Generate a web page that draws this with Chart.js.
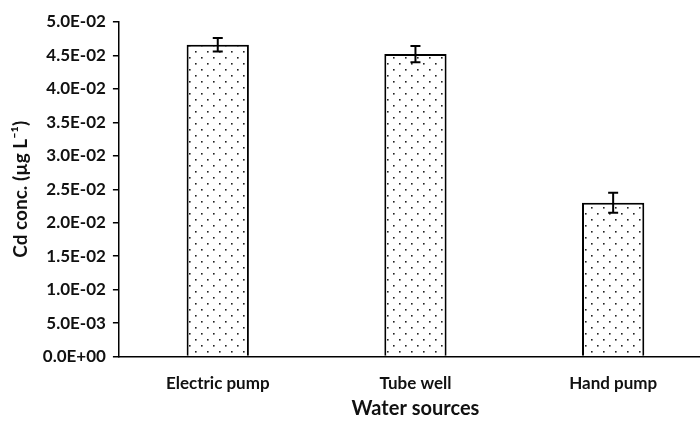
<!DOCTYPE html>
<html>
<head>
<meta charset="utf-8">
<script src="https://cdn.jsdelivr.net/npm/chart.js@4"></script>
<style>
  html, body { margin: 0; padding: 0; background: #fff; overflow: hidden; }
  #wrap { width: 712px; height: 421px; }
</style>
</head>
<body>
<div id="wrap"><canvas id="chart"></canvas></div>
<script>
// data
const sources = ["Electric pump", "Tube well", "Hand pump"];
const cdConc = [0.0466, 0.0452, 0.0230];
const cdErr = [0.0010, 0.0012, 0.0015];
const yTicks = [0, 0.005, 0.01, 0.015, 0.02, 0.025, 0.03, 0.035, 0.04, 0.045, 0.05];

const FONT = "Lato";

// sci notation like Excel: 5.0E-02
function sci(v) {
  if (v === 0) return "0.0E+00";
  let e = Math.floor(Math.log10(Math.abs(v)) + 1e-9);
  let m = v / Math.pow(10, e);
  let sign = e < 0 ? "-" : "+";
  let ee = String(Math.abs(e)).padStart(2, "0");
  return m.toFixed(1) + "E" + sign + ee;
}

function dotPattern() {
  const c = document.createElement("canvas");
  c.width = 12; c.height = 12;
  const g = c.getContext("2d");
  g.fillStyle = "#fff";
  g.fillRect(0, 0, 12, 12);
  g.fillStyle = "#222";
  g.fillRect(3, 3, 1.6, 1.6);
  g.fillRect(9, 9, 1.6, 1.6);
  return g.createPattern(c, "repeat");
}

/* error bars drawn from the y scale */
const errorBars = {
  id: "errorBars",
  afterDatasetsDraw(chart) {
    const ctx = chart.ctx;
    const y = chart.scales.y;
    const meta = chart.getDatasetMeta(0);
    ctx.save();
    ctx.strokeStyle = "#000";
    ctx.lineWidth = 2;
    meta.data.forEach((bar, i) => {
      const top = y.getPixelForValue(cdConc[i] + cdErr[i]);
      const bot = y.getPixelForValue(cdConc[i] - cdErr[i]);
      ctx.beginPath();
      ctx.moveTo(bar.x, top); ctx.lineTo(bar.x, bot);
      ctx.moveTo(bar.x - 5, top); ctx.lineTo(bar.x + 5, top);
      ctx.moveTo(bar.x - 5, bot); ctx.lineTo(bar.x + 5, bot);
      ctx.stroke();
    });
    ctx.restore();
  }
};

new Chart(document.getElementById("chart"), {
  type: "bar",
  data: {
    labels: sources,
    datasets: [{
      data: cdConc,
      backgroundColor: dotPattern(),
      borderColor: "#000",
      borderWidth: 2,
      borderSkipped: "bottom",
      barPercentage: 0.315,
      categoryPercentage: 1
    }]
  },
  options: {
    responsive: true,
    maintainAspectRatio: false,
    animation: false,
    layout: { padding: { top: 22, right: 0, bottom: 0, left: 5 } },
    plugins: { legend: { display: false }, tooltip: { enabled: false } },
    scales: {
      x: {
        grid: { display: false, drawTicks: false },
        border: { color: "#000", width: 1.5 },
        ticks: { color: "#111", font: { family: FONT, size: 17, weight: "bold" }, padding: 17 },
        title: { display: true, text: "Water sources", color: "#111",
                 font: { family: FONT, size: 20, weight: "bold" }, padding: { top: -14, bottom: 0 } }
      },
      y: {
        min: 0,
        max: 0.05,
        afterBuildTicks: (axis) => { axis.ticks = yTicks.map(v => ({ value: v })); },
        grid: { drawOnChartArea: false, drawTicks: true, tickLength: 6, color: "#000", lineWidth: 1.5 },
        border: { color: "#000", width: 1.5 },
        ticks: { color: "#111", font: { family: FONT, size: 17, weight: "bold" }, padding: 7,
                 callback: (v) => sci(v) },
        title: { display: true, text: "Cd conc. (µg L⁻¹)", color: "#111",
                 font: { family: FONT, size: 19, weight: "bold" }, padding: { bottom: 4 } }
      }
    }
  },
  plugins: [errorBars]
});
</script>
</body>
</html>
